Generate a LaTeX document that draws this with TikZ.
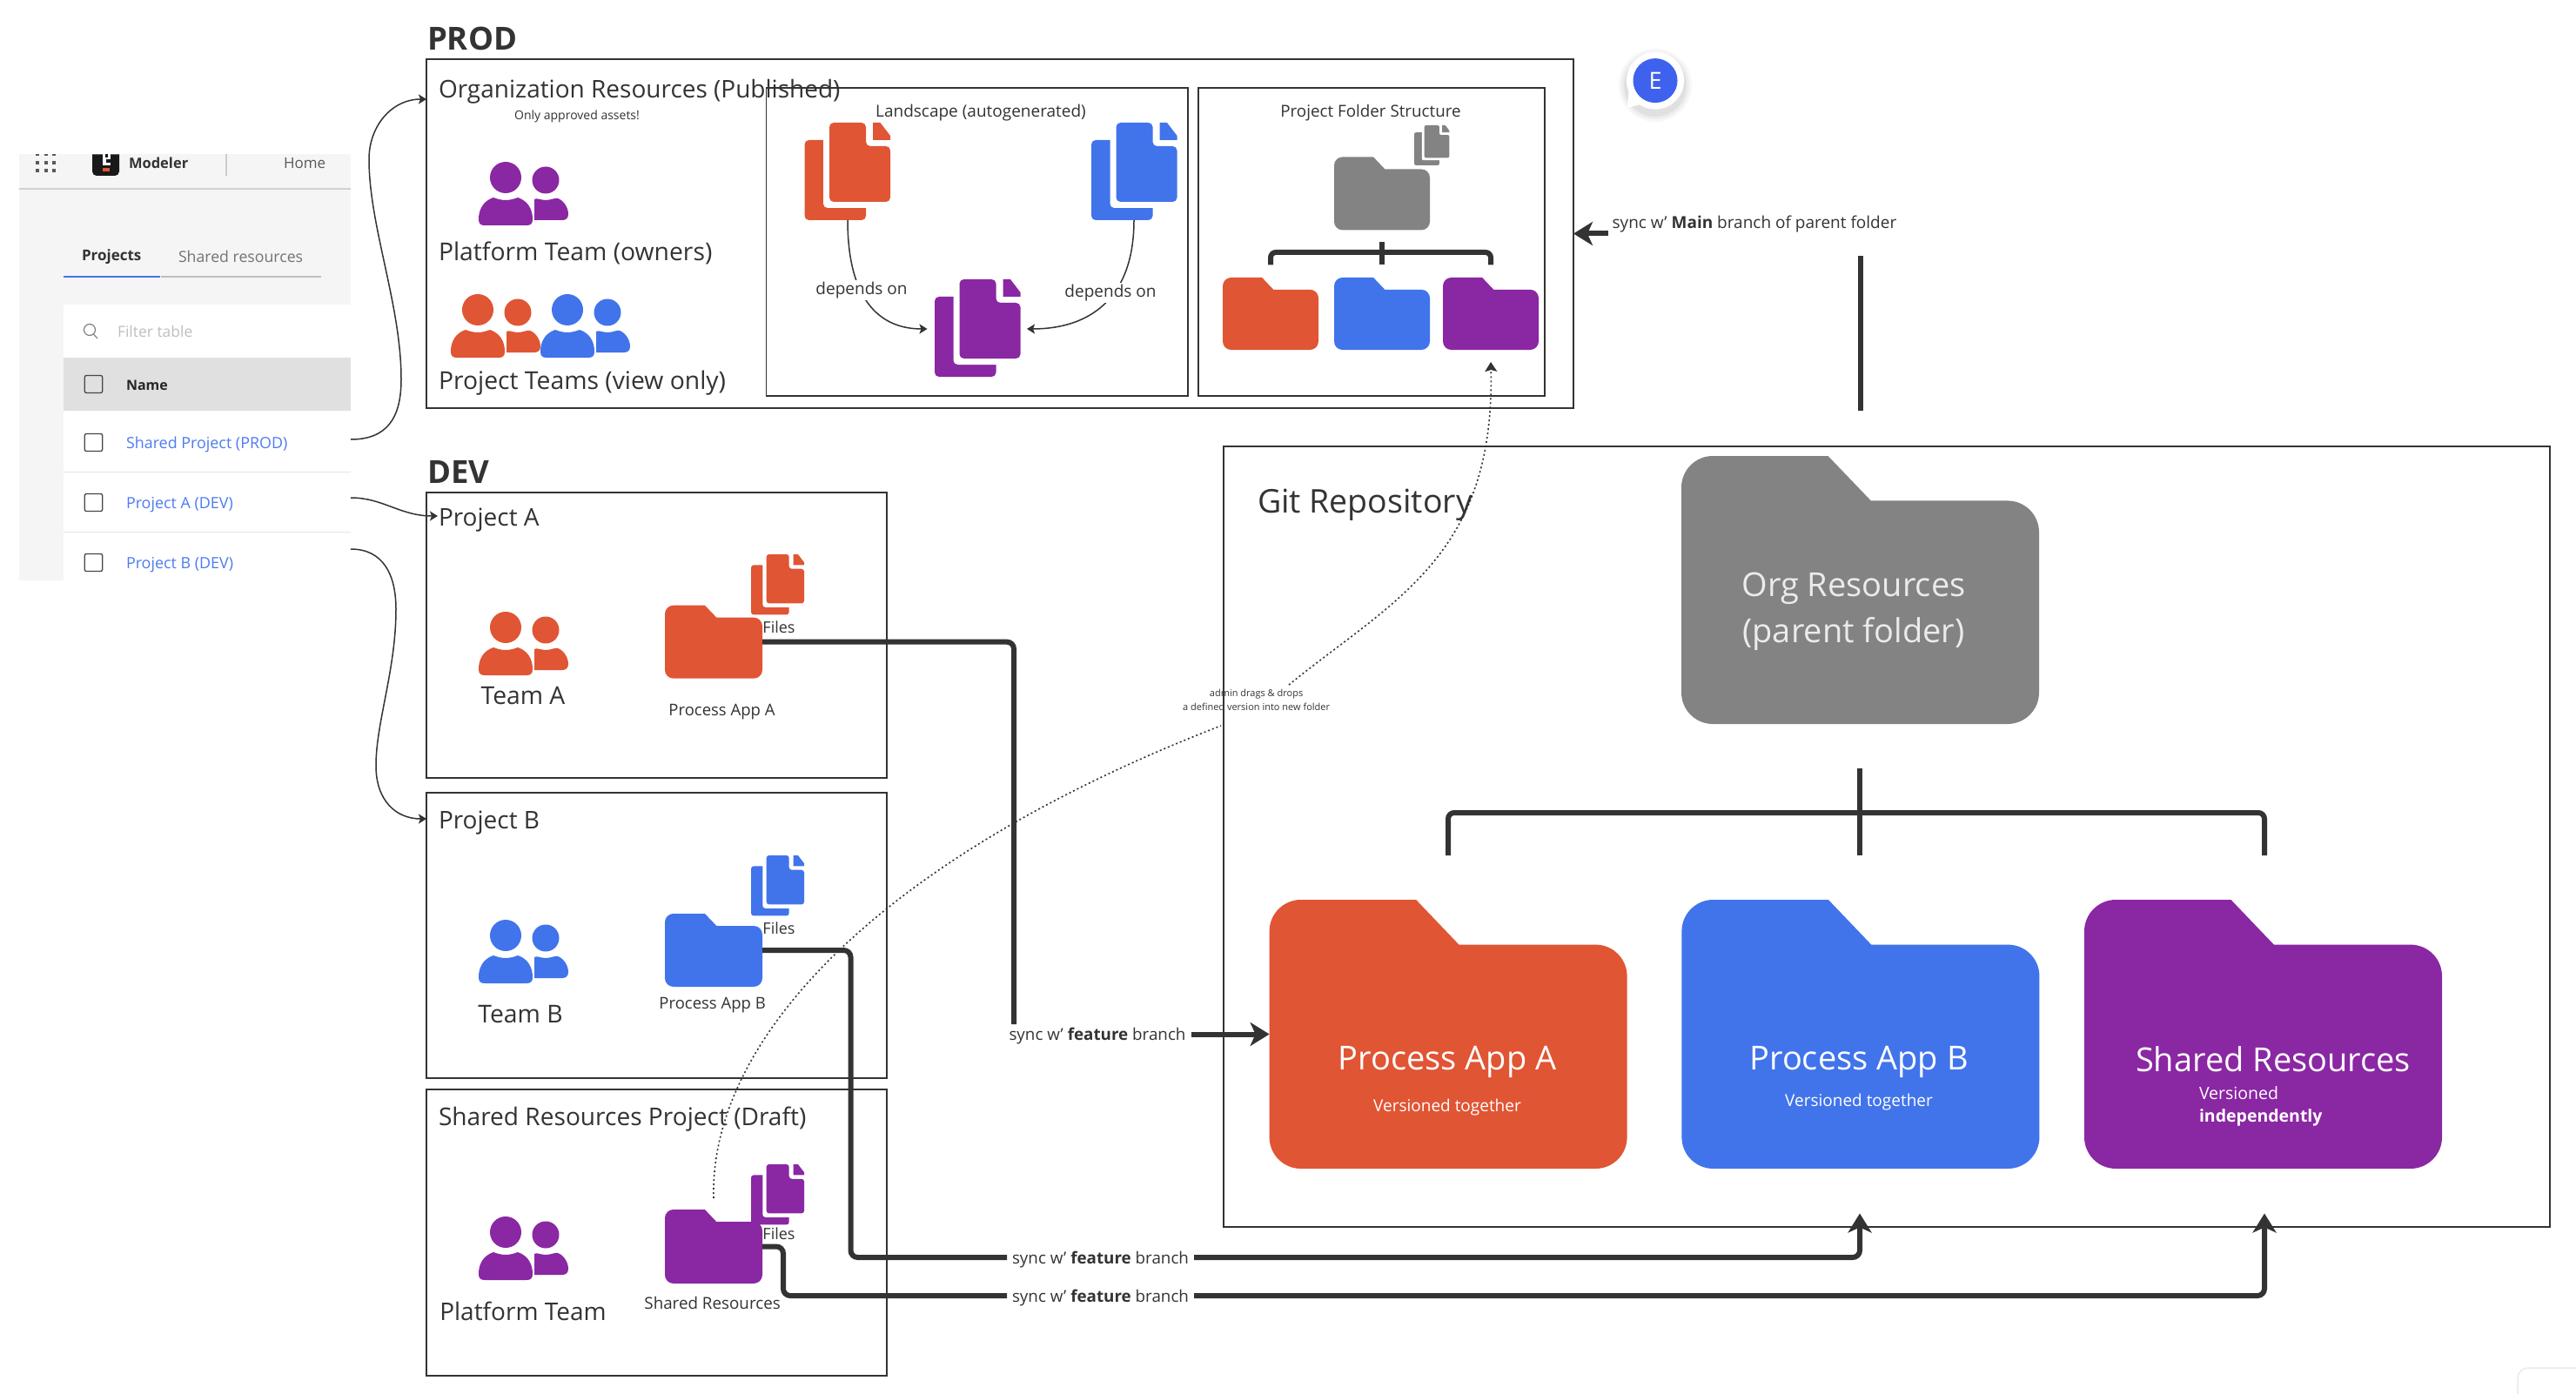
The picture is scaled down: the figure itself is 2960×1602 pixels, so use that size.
\documentclass[tikz,border=0pt]{standalone}
\usepackage{fontspec}
\setmainfont{Open Sans}
\usetikzlibrary{arrows.meta}
\definecolor{ink}{HTML}{333333}
\definecolor{ora}{HTML}{E05534}
\definecolor{blu}{HTML}{4174EB}
\definecolor{pur}{HTML}{8A27A3}
\definecolor{gra}{HTML}{838383}
\definecolor{lnk}{HTML}{4D7CF0}
\definecolor{ava}{HTML}{3F62EE}
\tikzset{
  fs/.style 2 args={font=\fontsize{#1}{#2}\selectfont},
  lab/.style={inner sep=0pt,outer sep=0pt,text=ink,anchor=west},
  mid/.style={inner sep=0pt,outer sep=0pt,text=ink,anchor=center},
  wht/.style={inner sep=0pt,outer sep=0pt,text=white,anchor=center},
  box/.style={draw=ink,line width=1.8pt,inner sep=0pt,outer sep=0pt,anchor=north west},
  ghost/.style={inner sep=0pt,outer sep=0pt,anchor=north west},
  conn/.style={draw=ink,line width=6pt,rounded corners=8pt},
  bigtip/.style={-{Stealth[length=22pt,width=27pt,inset=6pt]}},
  thin curve/.style={draw=ink,line width=1.5pt},
  smalltip/.style={-{Stealth[length=9pt,width=11pt,inset=2pt]}},
  dotline/.style={draw=ink,line width=1.6pt,dash pattern=on 2pt off 3pt},
  sync/.style={mid,inner sep=6pt,fs={18.8}{24},text height=18pt,text depth=4pt},
  uirow/.style={lab,text=lnk,fs={17.9}{20}},
  chk/.style={draw=ink!90,line width=1.3pt,rounded corners=2pt},
}
% folder: name, x, y, w, h, colour
\newcommand{\fldr}[6]{%
  \pgfmathsetmacro{\fr}{0.088*#4}%
  \fill[#6,rounded corners=\fr pt] (#2,#3+#5/2) -- (#2,#3) [sharp corners] -- (#2+.41*#4,#3) -- (#2+.53*#4,#3+.167*#5) [rounded corners=\fr pt] -- (#2+#4,#3+.167*#5) -- (#2+#4,#3+#5) -- (#2,#3+#5) -- cycle;
  \node[ghost,minimum width=#4pt,minimum height=#5pt] (#1) at (#2,#3) {};
}
% document pair: name, x, y, scale, colour
\newcommand{\docs}[5]{%
  \pgfmathsetmacro{\dr}{5*#4}%
  \begin{scope}[shift={(#2,#3)},scale=#4]
    \fill[#5,rounded corners=\dr pt] (0,20) rectangle (70.5,112);
    \fill[white,rounded corners=\dr pt] (21.5,10) rectangle (100,98);
    \fill[#5,rounded corners=\dr pt] (28.5,0) -- (70.5,0) -- (70.5,27) -- (98.5,27) -- (98.5,91) -- (28.5,91) -- cycle;
    \fill[#5] (78.5,0) -- (87,0) -- (98.5,15) -- (98.5,20) -- (78.5,20) -- cycle;
  \end{scope}
  \node[ghost,minimum width=98.5pt*#4,minimum height=112pt*#4] (#1) at (#2,#3) {};
}
% two people: x, y, colour
\newcommand{\ppl}[3]{%
  \begin{scope}[shift={(#1,#2)}]
    \fill[#3] (31,18) circle[radius=18];
    \fill[#3] (77,21) circle[radius=15.5];
    \fill[#3] (64,67) -- (64,43) .. controls (67,41) and (71,44) .. (77,44) .. controls (83,44) and (88,41) .. (91,42) .. controls (99,45) and (103,54) .. (103,60) .. controls (103,65) and (100,67) .. (96,67) -- cycle;
    \fill[#3] (0,66) .. controls (0,55) and (5,45) .. (17,41) .. controls (22,43) and (27,44) .. (31,44) .. controls (35,44) and (40,43) .. (45,41) .. controls (57,45) and (62,55) .. (62,66) .. controls (62,71) and (60,73) .. (55,73) -- (7,73) .. controls (2,73) and (0,71) .. (0,66) -- cycle;
  \end{scope}
}
\begin{document}
\begin{tikzpicture}[x=1pt,y=-1pt]
\useasboundingbox (0,0) rectangle (2960,1602);
\fill[white] (0,0) rectangle (2960,1602);

% --- modeler screenshot
\fill[black!4] (22,177.5) rectangle (403,350);
\fill[black!4] (22,350) rectangle (73,667);
\draw[black!18,line width=1.2pt] (22,217) -- (403,217);
\foreach \dx in {43,53,62}{
  \fill[black!65] (\dx-2,177.5) rectangle (\dx+2,179.5);
  \fill[black!65] (\dx-2,185) rectangle (\dx+2,189);
  \fill[black!65] (\dx-2,194) rectangle (\dx+2,198);
}
\fill[black!90] (106,177.5) -- (137,177.5) -- (137,197) arc[start angle=0,end angle=90,radius=5] -- (111,202) arc[start angle=90,end angle=180,radius=5] -- cycle;
\fill[white] (118,177.5) rectangle (127,190);
\fill[black!90] (121,177.5) rectangle (124,181);
\fill[black!90] (122,183) rectangle (127,187);
\fill[ora] (118,193) rectangle (126,197);
\node[lab,fs={16.5}{20},text=black!80] (uiModeler) at (148,187) {\textbf{Modeler}};
\draw[black!20,line width=1.2pt] (260,177.5) -- (260,202);
\node[lab,fs={17}{20},text=black!65] (uiHome) at (326,188) {Home};
\node[lab,fs={17}{20},text=black!80] (uiProjects) at (94,295) {\textbf{Projects}};
\node[lab,fs={17.7}{20},text=black!55] (uiShared) at (205,295) {Shared resources};
\draw[black!25,line width=2pt] (185,318) -- (369,318);
\draw[blu,line width=2.5pt] (73,318) -- (184,318);
\draw[black!50,line width=1.2pt] (103,379) circle[radius=6.5] (107.5,384) -- (112,389);
\node[lab,fs={17.5}{20},text=black!25] (uiFilter) at (135,381) {Filter table};
\fill[black!12] (73,411) rectangle (403,472);
\draw[chk] (97.3,431.5) rectangle (117.7,451.5);
\node[lab,fs={16}{20},text=black!85] (uiName) at (145,443) {\textbf{Name}};
\draw[black!10,line width=1pt] (73,542) -- (403,542) (73,611.5) -- (403,611.5);
\draw[chk] (97.3,498.5) rectangle (117.7,518.5);
\draw[chk] (97.3,567.5) rectangle (117.7,587.5);
\draw[chk] (97.3,636.5) rectangle (117.7,656.5);
\node[uirow] (rowS) at (145,511) {Shared Project (PROD)};
\node[uirow] (rowA) at (145,580) {Project A (DEV)};
\node[uirow] (rowB) at (145,649) {Project B (DEV)};

% --- PROD
\node[lab,fs={36.5}{40}] (tProd) at (491,44) {\textbf{PROD}};
\node[box,minimum width=1318pt,minimum height=401pt] (prod) at (490,68) {};
\node[box,minimum width=484.5pt,minimum height=354pt] (land) at (880.5,101) {};
\node[box,minimum width=398pt,minimum height=354pt] (struct) at (1377,101) {};
\node[lab,fs={28}{34}] (tOrg) at (504,105) {Organization Resources (Published)};
\node[mid,fs={14}{18}] (tOnly) at (663,134) {Only approved assets!};
\ppl{550}{186}{pur}
\node[lab,fs={28.3}{34}] (tPlat) at (504,291) {Platform Team (owners)};
\ppl{518}{338}{ora}
\ppl{621}{338}{blu}
\node[lab,fs={28.3}{34}] (tTeams) at (504,440) {Project Teams (view only)};

\node[mid,fs={19}{24}] (tLand) at (1127,130) {Landscape (autogenerated)};
\docs{dOra}{924.5}{141}{1}{ora}
\docs{dBlu}{1254}{141}{1}{blu}
\docs{dPur}{1074}{321}{1}{pur}
\coordinate (dOraOut) at (974,253);
\coordinate (dBluOut) at (1303,253);
\coordinate (dPurL) at (1065.5,378);
\coordinate (dPurR) at (1180,378);
\draw[thin curve,smalltip] (dOraOut) .. controls (974,350) and (1015,378) .. (dPurL);
\draw[thin curve,smalltip] (dBluOut) .. controls (1303,345) and (1250,378) .. (dPurR);
\node[mid,fs={19}{24},fill=white,inner sep=2pt] (tDep1) at (990,334) {depends on};
\node[mid,fs={19}{24},fill=white,inner sep=2pt] (tDep2) at (1276,337) {depends on};

\node[mid,fs={18.8}{24}] (tStruct) at (1575,130) {Project Folder Structure};
\docs{dGra}{1625}{144}{0.41}{gra}
\fldr{sGra}{1533}{180.4}{110}{84}{gra}
\fldr{sOra}{1405}{319}{110}{83}{ora}
\fldr{sBlu}{1533}{319}{110}{83}{blu}
\fldr{sPur}{1658}{319}{110}{83}{pur}
\draw[draw=ink,line width=6pt,rounded corners=6pt] (1460,304.5) -- (1460,290) -- (1713,290) -- (1713,304.5);
\draw[draw=ink,line width=6pt] (1588,278) -- (1588,304.5);

% --- sync with main
\node[lab,fs={19}{24}] (tMain) at (1852.6,258) {sync w' \textbf{Main} branch of parent folder};
\coordinate (mainFrom) at (1848,268.5);
\draw[conn,bigtip] (mainFrom) -- (prod.east);
\coordinate (barTop) at (2138,294);
\coordinate (barBot) at (2138,472);
\draw[conn] (barTop) -- (barBot);

% --- DEV
\node[lab,fs={36.5}{40}] (tDev) at (491,542) {\textbf{DEV}};
\node[box,minimum width=529pt,minimum height=328pt] (boxA) at (490,566) {};
\node[box,minimum width=529pt,minimum height=328pt] (boxB) at (490,911) {};
\node[box,minimum width=529pt,minimum height=329pt] (boxC) at (490,1252) {};
\node[lab,fs={28}{34}] (tPA) at (504,598) {Project A};
\node[lab,fs={28}{34}] (tPB) at (504,946) {Project B};
\node[lab,fs={28.1}{34}] (tPC) at (504,1286) {Shared Resources Project (Draft)};
\ppl{550}{703}{ora}
\ppl{550}{1057}{blu}
\ppl{550}{1398}{pur}
\node[mid,fs={28.3}{34}] (tTA) at (601,799) {Team A};
\node[mid,fs={28.3}{34}] (tTB) at (598,1166) {Team B};
\node[mid,fs={28}{34}] (tTC) at (601,1507) {Platform Team};
\docs{fA}{863}{637}{0.62}{ora}
\docs{fB}{863}{983}{0.62}{blu}
\docs{fC}{863}{1338}{0.62}{pur}
\fldr{pfA}{764}{695.7}{112}{84}{ora}
\fldr{pfB}{764}{1050}{112}{84}{blu}
\fldr{pfC}{764}{1390}{112}{85}{pur}
\node[mid,fs={18}{22}] (tFA) at (895,721) {Files};
\node[mid,fs={18}{22}] (tFB) at (895,1067) {Files};
\node[mid,fs={18}{22}] (tFC) at (895,1418) {Files};
\node[mid,fs={18.5}{22}] (tAppA) at (829.5,818) {Process App A};
\node[mid,fs={18.5}{22}] (tAppB) at (818.6,1155) {Process App B};
\node[mid,fs={18.8}{22}] (tAppC) at (818.6,1497) {Shared Resources};

% --- git repository
\node[box,minimum width=1524pt,minimum height=897pt] (git) at (1406,513) {};
\node[lab,fs={37.5}{40}] (tGit) at (1445,580) {Git Repository};
\fldr{gRoot}{1932}{524}{411}{308}{gra}
\node[wht,fs={38}{53},align=center,text=white!92!black] (tRoot) at (2130,703) {Org Resources\\(parent folder)};
\coordinate (trunkTop) at (2137,883);
\coordinate (trunkBot) at (2137,983);
\coordinate (limbL) at (1664,983);
\coordinate (limbR) at (2602,983);
\draw[draw=ink,line width=6pt] (trunkTop) -- (trunkBot);
\draw[draw=ink,line width=6pt,rounded corners=7pt] (limbL) -- (1664,934) -- (2602,934) -- (limbR);
\fldr{gA}{1458.6}{1034}{411}{309}{ora}
\fldr{gB}{1932.4}{1034}{411}{309}{blu}
\fldr{gC}{2395}{1034}{411}{309}{pur}
\node[wht,fs={38}{44}] (tGA) at (1663,1220) {Process App A};
\node[wht,fs={19}{24}] (tGAv) at (1663,1273) {Versioned together};
\node[wht,fs={38}{44}] (tGB) at (2136,1220) {Process App B};
\node[wht,fs={19}{24}] (tGBv) at (2136,1267) {Versioned together};
\node[wht,fs={38}{44}] (tGC) at (2612,1217) {Shared Resources};
\node[wht,fs={19.5}{24},anchor=west] (tGCv) at (2527,1256) {Versioned};
\node[wht,fs={19.5}{24},anchor=west] (tGCi) at (2527,1284) {\textbf{independently}};

% --- feature branch connectors
\node[sync] (sA) at (1261,1188.5) {sync w' \textbf{feature} branch};
\node[sync] (sB) at (1264.5,1445) {sync w' \textbf{feature} branch};
\node[sync] (sC) at (1264.5,1489) {sync w' \textbf{feature} branch};
\coordinate (aEnd) at (1165,1177);
\coordinate (tipB) at (2137,1394.5);
\coordinate (tipC) at (2602,1394.5);
\draw[conn] (pfA.east) -- (aEnd |- pfA.east) -- (aEnd);
\draw[conn,bigtip] (sA.east) -- (gA.west);
\draw[conn] (pfB.east) -- (977.5,1092) -- (977.5,1445) -- (sB.west);
\draw[conn,bigtip] (sB.east) -- (2137,1445) -- (tipB);
\draw[conn] (pfC.east) -- (900,1432.5) -- (900,1489) -- (sC.west);
\draw[conn,bigtip] (sC.east) -- (2602,1489) -- (tipC);

% --- dotted version hand-over
\node[mid,fs={11}{16},align=center,text=ink] (tDrag) at (1443.6,804) {admin drags \& drops\\a defined version into new folder};
\coordinate (dragStart) at (820,1377);
\coordinate (dragA) at (1403,834);
\coordinate (dragB) at (1481,787);
\coordinate (dragEnd) at (1713,416);
\draw[dotline] (dragStart) .. controls (815,1200) and (1000,990) .. (dragA);
\draw[dotline,-{Stealth[length=11pt,width=14pt,inset=2pt]}] (dragB) .. controls (1600,690) and (1718,640) .. (dragEnd);

% --- sidebar links
\coordinate (fromS) at (403,505);
\coordinate (fromA) at (403,572);
\coordinate (fromB) at (403,631);
\coordinate (toProd) at (490,114);
\coordinate (toB) at (490,941);
\draw[thin curve,smalltip] (fromS) .. controls (445,505) and (461,480) .. (461,436) .. controls (461,350) and (424,260) .. (424,183) .. controls (424,145) and (450,114) .. (toProd);
\draw[thin curve,smalltip] (fromA) .. controls (440,572) and (460,593) .. (503,593);
\draw[thin curve,smalltip] (fromB) .. controls (440,631) and (455,660) .. (455,700) .. controls (455,770) and (432,830) .. (432,880) .. controls (432,920) and (455,941) .. (toB);

% --- avatar
\foreach \r/\o in {42/.03,39/.04,36/.05}{\fill[black,opacity=\o] (1902,98) circle[radius=\r];}
\fill[white] (1902,92.6) circle[radius=33];
\fill[white] (1872,100) -- (1870,124) -- (1892,118) -- cycle;
\fill[ava] (1902,92.6) circle[radius=25.5];
\node[wht,fs={27}{30}] (tE) at (1902,92.6) {E};

% --- corner control
\draw[black!8,line width=1.5pt,rounded corners=12pt] (2893,1610) -- (2893,1572) -- (2970,1572);
\end{tikzpicture}
\end{document}
